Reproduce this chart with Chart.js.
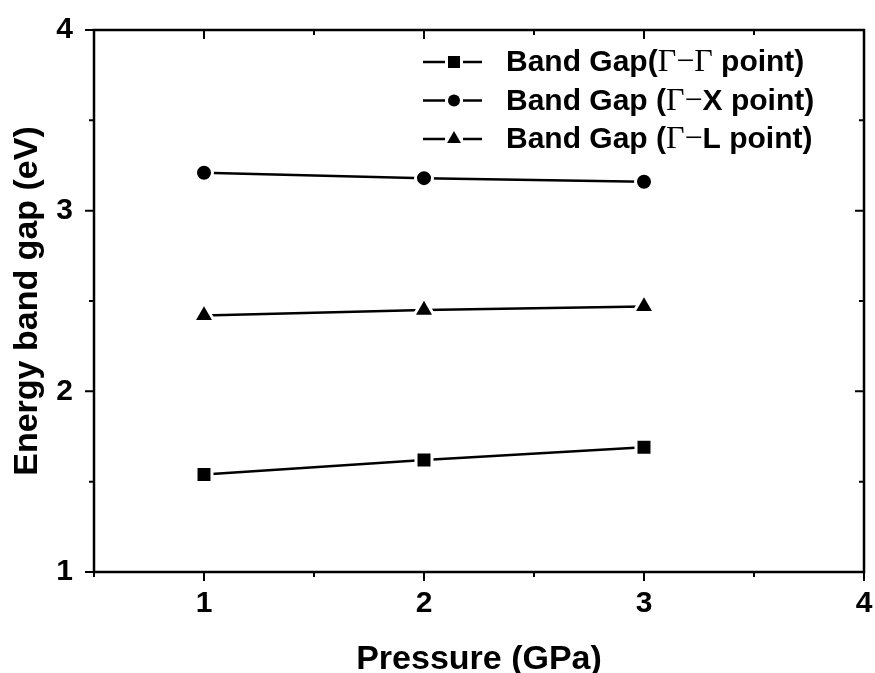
<!DOCTYPE html>
<html>
<head>
<meta charset="utf-8">
<script src="https://cdn.jsdelivr.net/npm/chart.js@4"></script>
<style>
  html, body { margin: 0; padding: 0; background: #fff; }
  #wrap { width: 875px; height: 673px; }
</style>
</head>
<body>
<div id="wrap"><canvas id="chart" width="875" height="673"></canvas></div>
<script>
// Band gap vs pressure, three transitions.
const pressure = [1, 2, 3];
const gapGG = [1.54, 1.62, 1.69];
const gapGX = [3.21, 3.18, 3.16];
const gapGL = [2.42, 2.45, 2.47];
const seriesNames = ["Band Gap(Γ−Γ point)", "Band Gap (Γ−X point)", "Band Gap (Γ−L point)"];
const xTicks = [1, 2, 3, 4];
const yTicks = [1, 2, 3, 4];
const xMinor = [0.5, 1.5, 2.5, 3.5];
const yMinor = [1.5, 2.5, 3.5];

const SANS = '"Liberation Sans", Arial, sans-serif';
const SERIF = '"Liberation Serif", "Times New Roman", serif';

const toPts = (ys) => pressure.map((x, i) => ({ x, y: ys[i] }));

// white border on the markers leaves the small gap Origin draws round them
const series = (label, ys, style, r) => ({
  label,
  data: toPts(ys),
  borderColor: "#000",
  borderWidth: 2.5,
  pointStyle: style,
  pointRadius: r,
  pointHoverRadius: r,
  pointBackgroundColor: "#000",
  pointBorderColor: "#fff",
  pointBorderWidth: 3,
  tension: 0,
});

// keep the plot box where the figure has it: no extra room for edge labels
const noPad = (s) => {
  s.paddingTop = 0; s.paddingBottom = 0; s.paddingLeft = 0; s.paddingRight = 0;
};

const MAJOR = 9, MINOR = 5;

const framePlugin = {
  id: "frame",
  afterDraw(chart) {
    const { ctx, chartArea: a, scales: { x, y } } = chart;
    ctx.save();
    ctx.strokeStyle = "#000";
    ctx.lineWidth = 2.5;
    ctx.strokeRect(a.left, a.top, a.right - a.left, a.bottom - a.top);
    ctx.lineWidth = 2;
    ctx.beginPath();
    const xt = (v, len) => {
      const px = x.getPixelForValue(v);
      ctx.moveTo(px, a.bottom); ctx.lineTo(px, a.bottom + len);   // outward
      ctx.moveTo(px, a.top); ctx.lineTo(px, a.top + len);         // inward
    };
    const yt = (v, len) => {
      const py = y.getPixelForValue(v);
      ctx.moveTo(a.left, py); ctx.lineTo(a.left - len, py);
      ctx.moveTo(a.right, py); ctx.lineTo(a.right - len, py);
    };
    xTicks.forEach((v) => xt(v, MAJOR));
    xMinor.forEach((v) => xt(v, MINOR));
    yTicks.forEach((v) => yt(v, MAJOR));
    yMinor.forEach((v) => yt(v, MINOR));
    ctx.stroke();
    ctx.restore();
  },
};

// Legend drawn by hand: "—■— text", with Γ and − set in a serif face.
const legendPlugin = {
  id: "gapLegend",
  afterDraw(chart) {
    const { ctx } = chart;
    const marks = [["rect", 8.5], ["circle", 6], ["triangle", 8]];
    ctx.save();
    chart.data.datasets.forEach((ds, i) => {
      const base = 71 + i * 38.5;
      const yc = base - 9;
      ctx.strokeStyle = "#000";
      ctx.lineWidth = 2.5;
      ctx.beginPath();
      ctx.moveTo(423, yc); ctx.lineTo(445, yc);
      ctx.moveTo(463, yc); ctx.lineTo(482, yc);
      ctx.stroke();
      ctx.fillStyle = "#000";
      Chart.helpers.drawPoint(ctx, {
        pointStyle: marks[i][0], radius: marks[i][1], borderWidth: 0, rotation: 0,
      }, 454, yc);
      // split text into runs of sans / serif characters
      let xpos = 506;
      ctx.textBaseline = "alphabetic";
      ctx.textAlign = "left";
      const runs = [];
      for (const ch of ds.label) {
        const serif = ch === "Γ" || ch === "−";
        const last = runs[runs.length - 1];
        if (last && last.serif === serif) last.t += ch;
        else runs.push({ serif, t: ch });
      }
      runs.forEach((r) => {
        ctx.font = r.serif ? `normal 32px ${SERIF}` : `bold 30px ${SANS}`;
        ctx.fillText(r.t, xpos, base);
        xpos += ctx.measureText(r.t).width;
      });
    });
    ctx.restore();
  },
};

new Chart(document.getElementById("chart"), {
  type: "line",
  data: {
    datasets: [
      series(seriesNames[0], gapGG, "rect", 11.3),
      series(seriesNames[1], gapGX, "circle", 8.5),
      series(seriesNames[2], gapGL, "triangle", 12.2),
    ],
  },
  options: {
    responsive: false,
    animation: false,
    devicePixelRatio: 1,
    layout: { autoPadding: false, padding: { top: 30, right: 11, left: 0, bottom: 0 } },
    plugins: { legend: { display: false }, tooltip: { enabled: false } },
    scales: {
      x: {
        type: "linear",
        min: 0.5,
        max: 4,
        afterBuildTicks: (s) => { s.ticks = xTicks.map((v) => ({ value: v })); },
        afterFit: (s) => { s.height = 101; noPad(s); },
        grid: { display: false, drawTicks: false },
        border: { display: false },
        ticks: {
          color: "#000", padding: 14, maxRotation: 0, autoSkip: false,
          font: { family: SANS, size: 30, weight: "bold" },
        },
        title: {
          display: true, text: "Pressure (GPa)", color: "#000",
          padding: { top: 0, bottom: -4 },
          font: { family: SANS, size: 34, weight: "bold", lineHeight: 1 },
        },
      },
      y: {
        type: "linear",
        min: 1,
        max: 4,
        afterBuildTicks: (s) => { s.ticks = yTicks.map((v) => ({ value: v })); },
        afterFit: (s) => { s.width = 94; noPad(s); },
        grid: { display: false, drawTicks: false },
        border: { display: false },
        ticks: {
          color: "#000", padding: 21, autoSkip: false,
          font: { family: SANS, size: 30, weight: "bold" },
        },
        title: {
          display: true, text: "Energy band gap (eV)", color: "#000",
          padding: { top: 11, bottom: 0 },
          font: { family: SANS, size: 34, weight: "bold", lineHeight: 1 },
        },
      },
    },
  },
  plugins: [framePlugin, legendPlugin],
});
</script>
</body>
</html>
